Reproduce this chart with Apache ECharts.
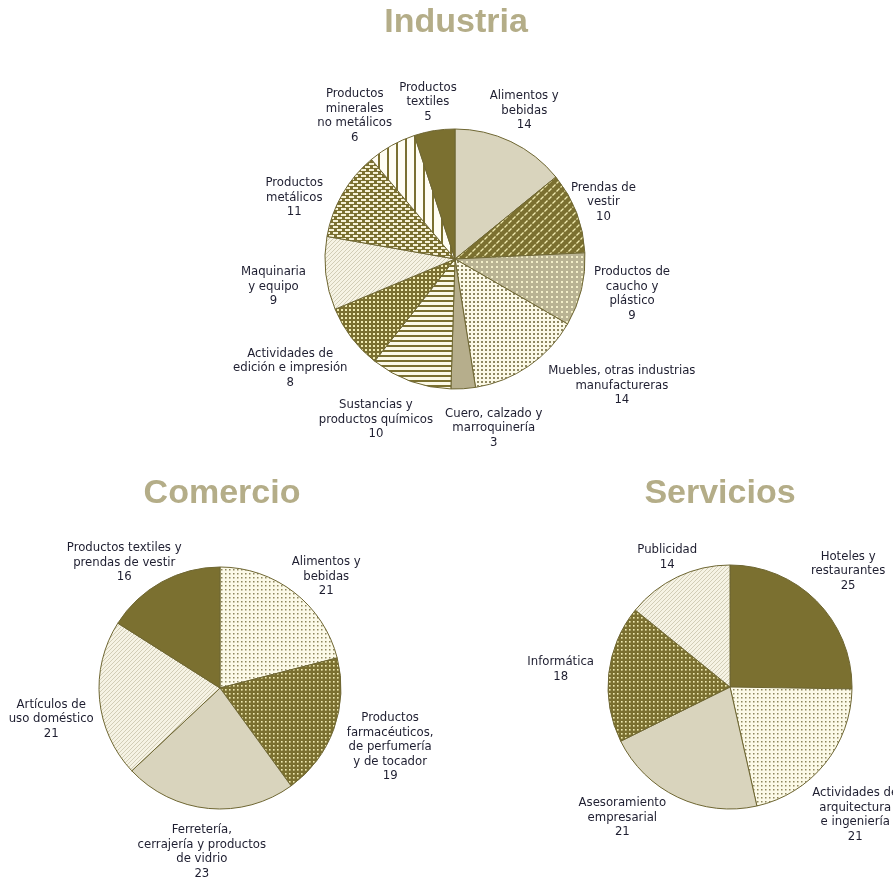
<!DOCTYPE html>
<html><head><meta charset="utf-8">
<script src="https://cdn.jsdelivr.net/npm/echarts@6/dist/echarts.min.js"></script>
<style>html,body{margin:0;padding:0;background:#fff}#c{width:893px;height:880px}</style>
</head><body><div id="c"></div>
<script>
// ---------- DATA ----------
const titles = ['Industria', 'Comercio', 'Servicios'];

const industriaCategories = [
  'Alimentos y\nbebidas', 'Prendas de\nvestir', 'Productos de\ncaucho y\nplástico',
  'Muebles, otras industrias\nmanufactureras', 'Cuero, calzado y\nmarroquinería',
  'Sustancias y\nproductos químicos', 'Actividades de\nedición e impresión',
  'Maquinaria\ny equipo', 'Productos\nmetálicos', 'Productos\nminerales\nno metálicos',
  'Productos\ntextiles'
];
const industriaValues = [14, 10, 9, 14, 3, 10, 8, 9, 11, 6, 5];

const comercioCategories = [
  'Alimentos y\nbebidas', 'Productos\nfarmacéuticos,\nde perfumería\ny de tocador',
  'Ferretería,\ncerrajería y productos\nde vidrio', 'Artículos de\nuso doméstico',
  'Productos textiles y\nprendas de vestir'
];
const comercioValues = [21, 19, 23, 21, 16];

const serviciosCategories = [
  'Hoteles y\nrestaurantes', 'Actividades de\narquitectura\ne ingeniería',
  'Asesoramiento\nempresarial', 'Informática', 'Publicidad'
];
const serviciosValues = [25, 21, 21, 18, 14];

// ---------- STYLES ----------
const OLIVE = '#7b7030';
const CREAM = '#fcfae8';
const BEIGE = '#d9d4bd';
const MIDBEIGE = '#b6ae8c';
const LIGHT = '#f1ecb2';

function pat(w, h, bg, draw) {
  const cv = document.createElement('canvas');
  cv.width = w; cv.height = h;
  const g = cv.getContext('2d');
  g.fillStyle = bg; g.fillRect(0, 0, w, h);
  draw(g);
  return { image: cv, repeat: 'repeat' };
}
const P = {
  dashDiag: pat(8, 8, OLIVE, g => { g.strokeStyle = LIGHT; g.lineWidth = 1.3; g.beginPath();
    g.moveTo(0.5, 3.5); g.lineTo(3.5, 0.5); g.moveTo(4.5, 7.5); g.lineTo(7.5, 4.5); g.stroke(); }),
  caucho: pat(5, 5, '#b9b393', g => { g.fillStyle = '#f3efc8'; g.fillRect(1, 1, 2, 2); }),
  darkDots: pat(4, 4, CREAM, g => { g.fillStyle = '#8f8862'; g.fillRect(1, 1, 2, 2); }),
  hlines: pat(4, 5, CREAM, g => { g.fillStyle = OLIVE; g.fillRect(0, 0, 4, 2); }),
  lightDots: pat(4, 4, OLIVE, g => { g.fillStyle = LIGHT; g.fillRect(1, 1, 2, 2); }),
  fine: pat(4, 4, '#f6f3e4', g => { g.fillStyle = '#d2cdb6';
    g.fillRect(0, 3, 1, 1); g.fillRect(1, 2, 1, 1); g.fillRect(2, 1, 1, 1); g.fillRect(3, 0, 1, 1); }),
  bricks: pat(8, 6, OLIVE, g => { g.fillStyle = '#f6f2d6'; g.fillRect(1, 1, 5, 2);
    g.fillRect(5, 4, 3, 2); g.fillRect(0, 4, 2, 2); }),
  vlines: pat(9, 4, '#fffdf3', g => { g.fillStyle = OLIVE; g.fillRect(0, 0, 2, 4); }),
  sparseDots: pat(4, 4, CREAM, g => { g.fillStyle = '#8d865d'; g.fillRect(1, 1, 1.5, 1.5); }),
  sparseLight: pat(4, 4, OLIVE, g => { g.fillStyle = LIGHT; g.fillRect(1, 1, 1.6, 1.6); })
};
const industriaFills = [BEIGE, P.dashDiag, P.caucho, P.darkDots, MIDBEIGE, P.hlines,
  P.lightDots, P.fine, P.bricks, P.vlines, OLIVE];
const comercioFills = [P.sparseDots, P.sparseLight, BEIGE, P.fine, OLIVE];
const serviciosFills = [OLIVE, P.sparseDots, BEIGE, P.sparseLight, P.fine];

// label nudges (pixels) applied after the generic outside placement
const industriaLabelNudge = [[-4,-7],[-9,-1],[8,-4],[48,-3],[27,12],[-13,13],[-11,14],[-14,10],[-18,17],[-16,0],[-1,-2]];
const comercioLabelNudge = [[6,7],[8,3],[0,7],[2,17],[-6,6]];
const serviciosLabelNudge = [[-1,-10],[-9,28],[-33,-6],[-7,-2],[6,0]];

const FONT = '"Liberation Sans Narrow", "DejaVu Sans Condensed", sans-serif';

function labelLayoutFor(cx, cy, r, off, values, nudge) {
  const total = values.reduce((a, b) => a + b, 0);
  const mids = []; let cum = 0;
  values.forEach(v => { mids.push((cum + v / 2) / total * 2 * Math.PI); cum += v; });
  return function (p) {
    const a = mids[p.dataIndex], s = Math.sin(a), c = Math.cos(a);
    const w = p.labelRect.width, h = p.labelRect.height;
    const n = nudge[p.dataIndex];
    return {
      x: cx + (r + off) * s + s * w / 2 + n[0],
      y: cy - (r + off) * c - c * h / 2 + n[1],
      align: 'center', verticalAlign: 'middle'
    };
  };
}

function pieSeries(cats, vals, fills, cx, cy, r, off, nudge) {
  return {
    type: 'pie',
    center: [cx, cy],
    radius: r,
    startAngle: 90,
    clockwise: true,
    avoidLabelOverlap: false,
    silent: true,
    animation: false,
    data: vals.map((v, i) => ({ name: cats[i], value: v, itemStyle: { color: fills[i] } })),
    itemStyle: { borderColor: '#6f6733', borderWidth: 1 },
    label: {
      show: true,
      position: 'outside',
      formatter: p => p.name.split('\n').concat([String(p.value)]).map(l => '{c|' + l + '}').join('\n'),
      rich: { c: { align: 'center', fontFamily: FONT, fontSize: 13, lineHeight: 14.5, color: '#1e1e30' } }
    },
    labelLine: { show: false, length: off, length2: 0 },
    labelLayout: labelLayoutFor(cx, cy, r, off, vals, nudge)
  };
}

const titleStyle = { fontFamily: '"Liberation Sans", Arial, sans-serif', fontWeight: 'bold', fontSize: 34, color: '#b4ad88' };

const chart = echarts.init(document.getElementById('c'), null, { renderer: 'canvas' });
chart.setOption({
  backgroundColor: '#ffffff',
  title: [
    { text: titles[0], left: 456, top: 6, textAlign: 'center', textStyle: titleStyle, padding: 0 },
    { text: titles[1], left: 222, top: 477, textAlign: 'center', textStyle: titleStyle, padding: 0 },
    { text: titles[2], left: 720, top: 477, textAlign: 'center', textStyle: titleStyle, padding: 0 }
  ],
  series: [
    pieSeries(industriaCategories, industriaValues, industriaFills, 455, 259, 130, 6, industriaLabelNudge),
    pieSeries(comercioCategories, comercioValues, comercioFills, 220, 688, 121, 8, comercioLabelNudge),
    pieSeries(serviciosCategories, serviciosValues, serviciosFills, 730, 687, 122, 8, serviciosLabelNudge)
  ]
});
</script>
</body></html>
